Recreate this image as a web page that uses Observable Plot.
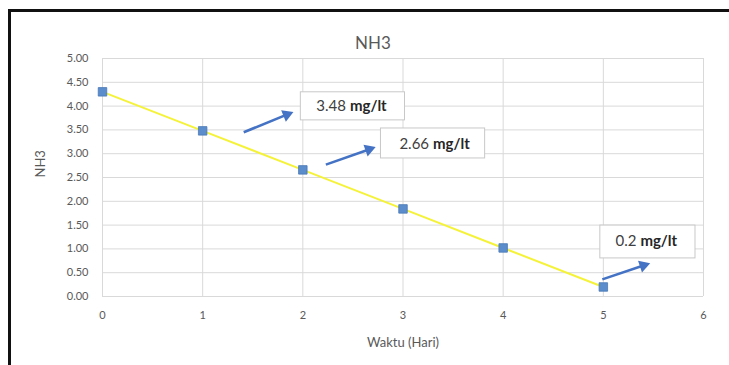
<!DOCTYPE html>
<html>
<head>
<meta charset="utf-8">
<script src="https://cdn.jsdelivr.net/npm/d3@7"></script>
<script src="https://cdn.jsdelivr.net/npm/@observablehq/plot@0.6"></script>
<style>
  body { margin: 0; background: #fff; }
  #chart { position: relative; width: 729px; height: 365px; overflow: hidden; }
  #chart svg { display: block; }
  #frame {
    position: absolute; left: 8px; top: 9px; right: -10px; bottom: -10px;
    border-top: 3px solid #111; border-left: 3px solid #111; pointer-events: none;
  }
</style>
</head>
<body>
<div id="chart"><div id="frame"></div></div>
<script>
// NH3 concentration (mg/lt) per day
const days = [0, 1, 2, 3, 4, 5];
const nh3 = [4.30, 3.48, 2.66, 1.84, 1.02, 0.20];

// Axis ticks
const xTicks = [0, 1, 2, 3, 4, 5, 6];
const yTicks = [0, 0.5, 1, 1.5, 2, 2.5, 3, 3.5, 4, 4.5, 5];

// Callout boxes (data units) with their values
const calloutValue = ["3.48", "2.66", "0.2"];
const calloutUnit = "mg/lt";
const boxLeft = [1.98, 2.78, 4.97];
const boxRight = [3.02, 3.82, 5.92];
const boxTop = [4.29, 3.53, 1.49];
const boxBottom = [3.70, 2.90, 0.80];
const textSplitX = [2.45, 3.28, 5.35];
const textY = [3.99, 3.21, 1.16];

// Arrows pointing toward the callouts
const arrowX1 = [1.41, 2.23, 4.99];
const arrowY1 = [3.45, 2.77, 0.36];
const arrowX2 = [1.84, 2.66, 5.40];
const arrowY2 = [3.82, 3.09, 0.65];

const width = 729, height = 365;
const margin = {left: 102, right: 26, top: 58, bottom: 69};
const xDomain = [0, 6], yDomain = [0, 5];
// pixels per data unit, used to orient the arrow heads
const kx = (width - margin.left - margin.right) / (xDomain[1] - xDomain[0]);
const ky = (height - margin.top - margin.bottom) / (yDomain[1] - yDomain[0]);

const points = days.map((d, i) => ({day: d, value: nh3[i]}));
const callouts = calloutValue.map((v, i) => ({
  value: v, x1: boxLeft[i], x2: boxRight[i], y1: boxBottom[i], y2: boxTop[i],
  tx: textSplitX[i], ty: textY[i],
  ax1: arrowX1[i], ay1: arrowY1[i], ax2: arrowX2[i], ay2: arrowY2[i],
  angle: 90 - Math.atan2((arrowY2[i] - arrowY1[i]) * ky, (arrowX2[i] - arrowX1[i]) * kx) * 180 / Math.PI
}));

const font = "Lato, 'Open Sans', sans-serif";
const gray = "#595959";
const arrowBlue = "#4472c4";

const chart = Plot.plot({
  width, height,
  marginLeft: margin.left,
  marginRight: margin.right,
  marginTop: margin.top,
  marginBottom: margin.bottom,
  style: {fontFamily: font, background: "transparent", color: gray},
  x: {domain: xDomain, ticks: xTicks},
  y: {domain: yDomain, ticks: yTicks},
  marks: [
    Plot.gridX(xTicks, {stroke: "#d9d9d9", strokeOpacity: 1}),
    Plot.gridY(yTicks, {stroke: "#d9d9d9", strokeOpacity: 1}),
    Plot.axisX(xTicks, {tickSize: 0, tickPadding: 15, fontSize: 11, fill: gray, label: null}),
    Plot.axisY(yTicks, {tickSize: 0, tickPadding: 14, fontSize: 11, fill: gray, label: null, tickFormat: d3.format(".2f")}),
    Plot.line(points, {x: "day", y: "value", stroke: "#f5f23a", strokeWidth: 2}),
    Plot.dot(points, {x: "day", y: "value", symbol: "square", r: 4.8, fill: "#5b8ccb", stroke: "#4a78b5", strokeWidth: 0.8}),
    Plot.rect(callouts, {x1: "x1", x2: "x2", y1: "y1", y2: "y2", fill: "white", stroke: "#c8c8c8", strokeWidth: 1}),
    Plot.text(callouts, {x: "tx", y: "ty", text: "value", textAnchor: "end", dx: -2, fontSize: 15, fill: "#404040"}),
    Plot.text(callouts, {x: "tx", y: "ty", text: () => calloutUnit, textAnchor: "start", dx: 2, fontSize: 15, fontWeight: "bold", fill: "#262626"}),
    // arrow shafts with filled triangular heads
    Plot.link(callouts, {x1: "ax1", y1: "ay1", x2: "ax2", y2: "ay2", stroke: arrowBlue, strokeWidth: 2.6, strokeLinecap: "butt"}),
    Plot.dot(callouts, {x: "ax2", y: "ay2", symbol: "triangle", r: 4.6, rotate: "angle", fill: arrowBlue, stroke: "none"}),
    Plot.text(["NH3"], {frameAnchor: "top", dx: -30, dy: -22, fontSize: 17, fill: gray}),
    Plot.text(["NH3"], {frameAnchor: "left", dx: -62, rotate: -90, fontSize: 13, fill: gray}),
    Plot.text(["Waktu (Hari)"], {frameAnchor: "bottom", dy: 50, fontSize: 13, fill: gray})
  ]
});

document.getElementById("chart").prepend(chart);
</script>
</body>
</html>
